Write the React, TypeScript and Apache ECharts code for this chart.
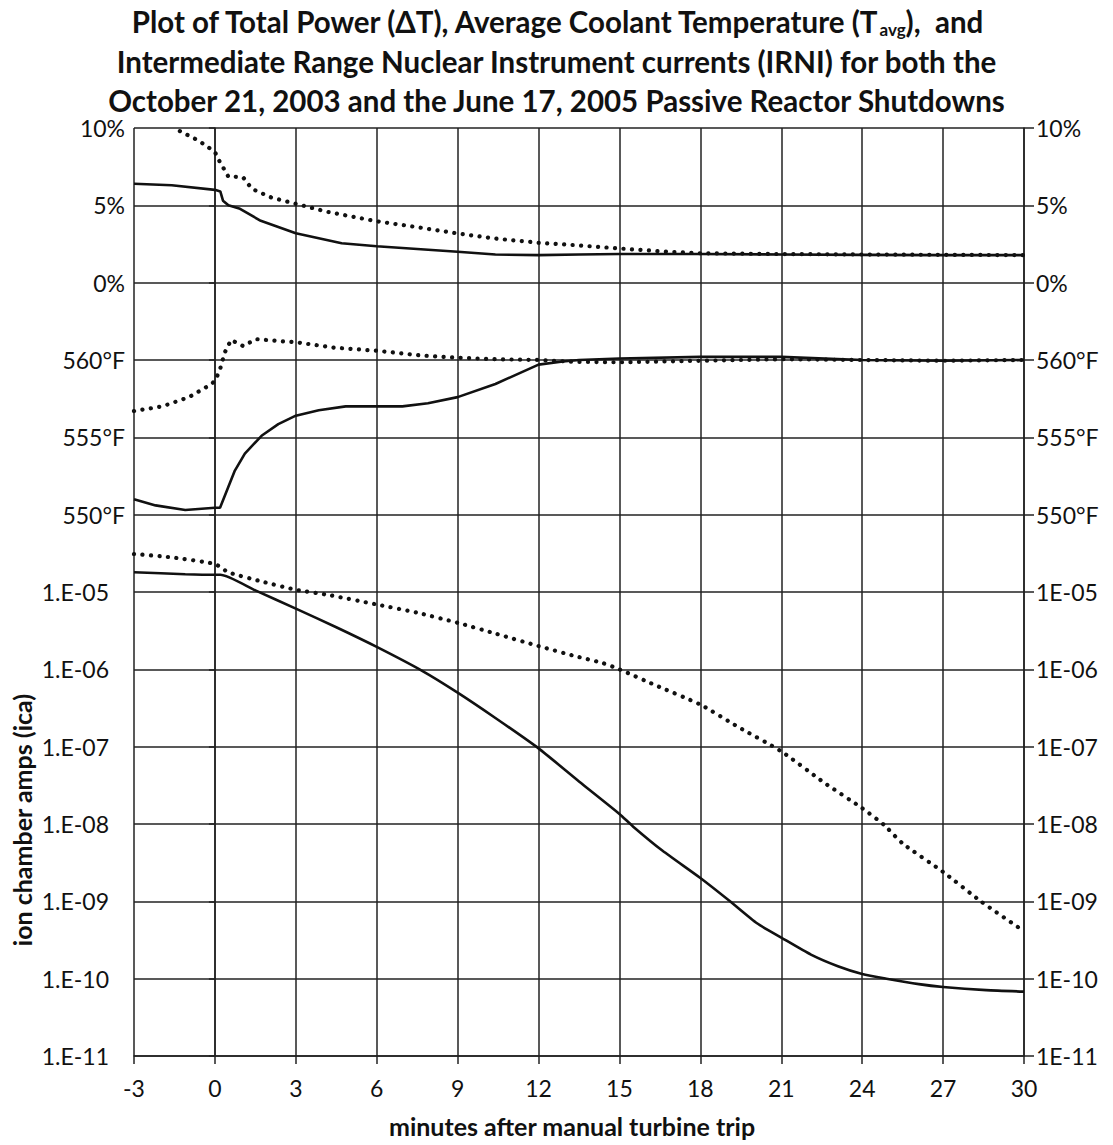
import React, { useEffect, useRef } from "react";
import * as echarts from "echarts";

// ---- data (minutes after manual turbine trip) ----
// Total power (ΔT), percent
const powerSolidT = [-3, -1.6, 0, 0.2, 0.3, 0.5, 0.9, 1.7, 3, 4.7, 6, 9, 10.4, 12, 13.5, 15, 18, 21, 24, 27, 30];
const powerSolid = [6.4, 6.3, 6.0, 5.9, 5.3, 5.0, 4.8, 4.0, 3.2, 2.55, 2.35, 2.0, 1.82, 1.78, 1.82, 1.85, 1.85, 1.82, 1.8, 1.78, 1.78];
const powerDottedT = [-1.3, -0.6, 0, 0.12, 0.37, 0.5, 0.75, 1.05, 1.37, 2.1, 3, 4.2, 6, 7.45, 9, 10.4, 12, 13.4, 15, 16.8, 18, 21, 24, 27, 30];
const powerDotted = [9.8, 9.18, 8.45, 8.0, 7.25, 6.85, 6.85, 6.8, 6.07, 5.5, 5.1, 4.57, 3.97, 3.6, 3.18, 2.85, 2.58, 2.42, 2.21, 2.0, 1.9, 1.85, 1.82, 1.8, 1.78];

// Average coolant temperature (Tavg), °F
const tavgSolidT = [-3, -2.2, -1.1, 0, 0.19, 0.5, 0.74, 1.11, 1.73, 2.35, 3, 3.85, 4.85, 6, 6.95, 7.9, 9, 10.4, 12, 12.9, 13.5, 15, 18, 21, 24, 27, 30];
const tavgSolid = [551.0, 550.6, 550.3, 550.45, 550.45, 551.8, 552.85, 553.95, 555.1, 555.85, 556.4, 556.75, 557.0, 557.0, 557.0, 557.2, 557.6, 558.45, 559.7, 559.9, 560.0, 560.1, 560.2, 560.2, 560.0, 559.95, 560.0];
const tavgDottedT = [-3, -1.95, -0.96, -0.12, 0.02, 0.19, 0.37, 0.6, 1.05, 1.52, 2.2, 3, 4.4, 6, 7.6, 9, 10.4, 12, 13.3, 15, 18, 21, 24, 27, 30];
const tavgDotted = [556.7, 557.0, 557.6, 558.45, 558.7, 559.4, 560.5, 561.3, 560.9, 561.35, 561.25, 561.15, 560.8, 560.6, 560.3, 560.15, 560.05, 560.0, 559.88, 559.85, 559.95, 560.05, 560.0, 559.95, 560.0];

// Intermediate range nuclear instrument currents (IRNI), amps
const irniSolidT = [-3, -1.1, 0, 0.2, 1.5, 3, 4.5, 6, 7.7, 9, 10.4, 12, 13.5, 15, 15.5, 16.6, 18, 19.1, 20.1, 21, 22.1, 23.1, 24, 24.9, 26.1, 27, 28.6, 30];
const irniSolid = [1.8e-5, 1.7e-5, 1.67e-5, 1.67e-5, 1.05e-5, 6.1e-6, 3.5e-6, 1.95e-6, 9.5e-7, 5.0e-7, 2.35e-7, 9.5e-8, 3.55e-8, 1.35e-8, 9.3e-9, 4.5e-9, 2.0e-9, 1.0e-9, 5.2e-10, 3.4e-10, 2.05e-10, 1.45e-10, 1.15e-10, 1.0e-10, 8.5e-11, 7.8e-11, 7.1e-11, 6.8e-11];
const irniDottedT = [-3, -1.6, 0, 0.5, 1.8, 3, 4.25, 6, 7.5, 9, 10.4, 12, 13.3, 14.4, 15, 16.3, 18, 19.4, 21, 22.6, 24, 24.8, 25.5, 27, 28.4, 30];
const irniDotted = [3.1e-5, 2.8e-5, 2.3e-5, 1.8e-5, 1.35e-5, 1.07e-5, 9.1e-6, 6.9e-6, 5.4e-6, 4.0e-6, 2.9e-6, 2.0e-6, 1.5e-6, 1.2e-6, 1.0e-6, 6.3e-7, 3.5e-7, 1.8e-7, 8.7e-8, 3.4e-8, 1.6e-8, 9.8e-9, 5.6e-9, 2.4e-9, 1.0e-9, 4.1e-10];

// tick labels (bottom to top of the stacked value scale)
const leftLabels = ["1.E-11", "1.E-10", "1.E-09", "1.E-08", "1.E-07", "1.E-06", "1.E-05", "550°F", "555°F", "560°F", "0%", "5%", "10%"];
const rightLabels = ["1E-11", "1E-10", "1E-09", "1E-08", "1E-07", "1E-06", "1E-05", "550°F", "555°F", "560°F", "0%", "5%", "10%"];
const xMin = -3;
const xMax = 30;
const xStep = 3;

// mapping of each quantity onto the stacked band scale
const powerToU = (p: number) => 10 + p / 5;
const tempToU = (t: number) => 7 + (t - 550) / 5;
const ampsToU = (a: number) => Math.log10(a) + 11;

const FONT = "Lato, 'Open Sans', sans-serif";
const INK = "#111";

function build(t: number[], v: number[], f: (x: number) => number) {
  return t.map((x, i) => [x, f(v[i])]);
}

const solidStyle = { color: INK, width: 2.6, type: "solid" as const };
const dotStyle = { color: INK, width: 4.2, type: [0.1, 8.4], cap: "round" as const };

export default function App() {
  const ref = useRef<HTMLDivElement>(null);
  useEffect(() => {
    if (!ref.current) return;
    const chart = echarts.init(ref.current, undefined, { renderer: "svg" });
    const mk = (name: string, data: number[][], dotted: boolean, smooth = false) => ({
      name,
      type: "line",
      data,
      showSymbol: false,
      symbol: "none",
      smooth: smooth ? 0.2 : false,
      clip: true,
      lineStyle: dotted ? dotStyle : solidStyle,
      z: 5,
    });
    chart.setOption({
      animation: false,
      backgroundColor: "#fff",
      title: {
        text:
          "Plot of Total Power (ΔT), Average Coolant Temperature (T{sub|avg}),  and\nIntermediate Range Nuclear Instrument currents (IRNI) for both the\nOctober 21, 2003 and the June 17, 2005 Passive Reactor Shutdowns",
        left: "center",
        top: 2,
        padding: [0, 0, 0, 20],
        textStyle: {
          fontFamily: FONT,
          fontWeight: "bold",
          fontSize: 29.5,
          lineHeight: 39.5,
          color: INK,
          rich: {
            sub: {
              fontFamily: FONT,
              fontWeight: "bold",
              fontSize: 17,
              color: INK,
              padding: [15, 0, 0, 0],
              lineHeight: 39.5,
            },
          },
        },
      },
      grid: { left: 134, right: 89, top: 128, bottom: 89, containLabel: false },
      xAxis: {
        type: "value",
        min: xMin,
        max: xMax,
        interval: xStep,
        axisLine: { show: true, lineStyle: { color: "#222", width: 1.5 } },
        axisTick: { show: true, length: 8, lineStyle: { color: "#222", width: 1.5 } },
        axisLabel: { fontFamily: FONT, fontSize: 23, color: INK, margin: 20 },
        splitLine: { show: true, lineStyle: { color: "#222", width: 1.5 } },
      },
      yAxis: [
        {
          type: "value",
          min: 0,
          max: 12,
          interval: 1,
          position: "left",
          axisLine: { show: true, lineStyle: { color: "#222", width: 1.5 } },
          axisTick: { show: true, length: 6, lineStyle: { color: "#222", width: 1.5 } },
          axisLabel: {
            fontFamily: FONT,
            fontSize: 23,
            color: INK,
            margin: 9,
            formatter: (v: number) => {
              const i = Math.round(v);
              const s = leftLabels[i] ?? "";
              return i <= 6 ? "{e|" + s + "}" : s;
            },
            rich: {
              e: { fontFamily: FONT, fontSize: 23, color: INK, padding: [0, 16, 0, 0] },
            },
          },
          splitLine: { show: true, lineStyle: { color: "#222", width: 1.5 } },
        },
        {
          type: "value",
          min: 0,
          max: 12,
          interval: 1,
          position: "right",
          axisLine: { show: true, lineStyle: { color: "#222", width: 1.5 } },
          axisTick: { show: true, length: 10, lineStyle: { color: "#222", width: 1.5 } },
          axisLabel: {
            fontFamily: FONT,
            fontSize: 23,
            color: INK,
            margin: 12,
            formatter: (v: number) => rightLabels[Math.round(v)] ?? "",
          },
          splitLine: { show: false },
        },
      ],
      graphic: [
        {
          type: "text",
          x: 22,
          y: 820,
          rotation: Math.PI / 2,
          style: {
            text: "ion chamber amps (ica)",
            fontFamily: FONT,
            fontWeight: "bold",
            fontSize: 25,
            fill: INK,
            align: "center",
            verticalAlign: "middle",
            textAlign: "center",
            textVerticalAlign: "middle",
          },
        },
        {
          type: "text",
          x: 572,
          y: 1126,
          style: {
            text: "minutes after manual turbine trip",
            fontFamily: FONT,
            fontWeight: "bold",
            fontSize: 25,
            fill: INK,
            align: "center",
            verticalAlign: "middle",
            textAlign: "center",
            textVerticalAlign: "middle",
          },
        },
      ],
      series: [
        mk("Power 2005", build(powerSolidT, powerSolid, powerToU), false),
        mk("Power 2003", build(powerDottedT, powerDotted, powerToU), true),
        mk("Tavg 2005", build(tavgSolidT, tavgSolid, tempToU), false),
        mk("Tavg 2003", build(tavgDottedT, tavgDotted, tempToU), true),
        mk("IRNI 2005", build(irniSolidT, irniSolid, ampsToU), false, true),
        mk("IRNI 2003", build(irniDottedT, irniDotted, ampsToU), true, true),
      ],
    });
    return () => chart.dispose();
  }, []);
  return (
    <div
      ref={ref}
      style={{ position: "absolute", left: 0, top: 0, width: 1113, height: 1145, background: "#fff" }}
    />
  );
}
